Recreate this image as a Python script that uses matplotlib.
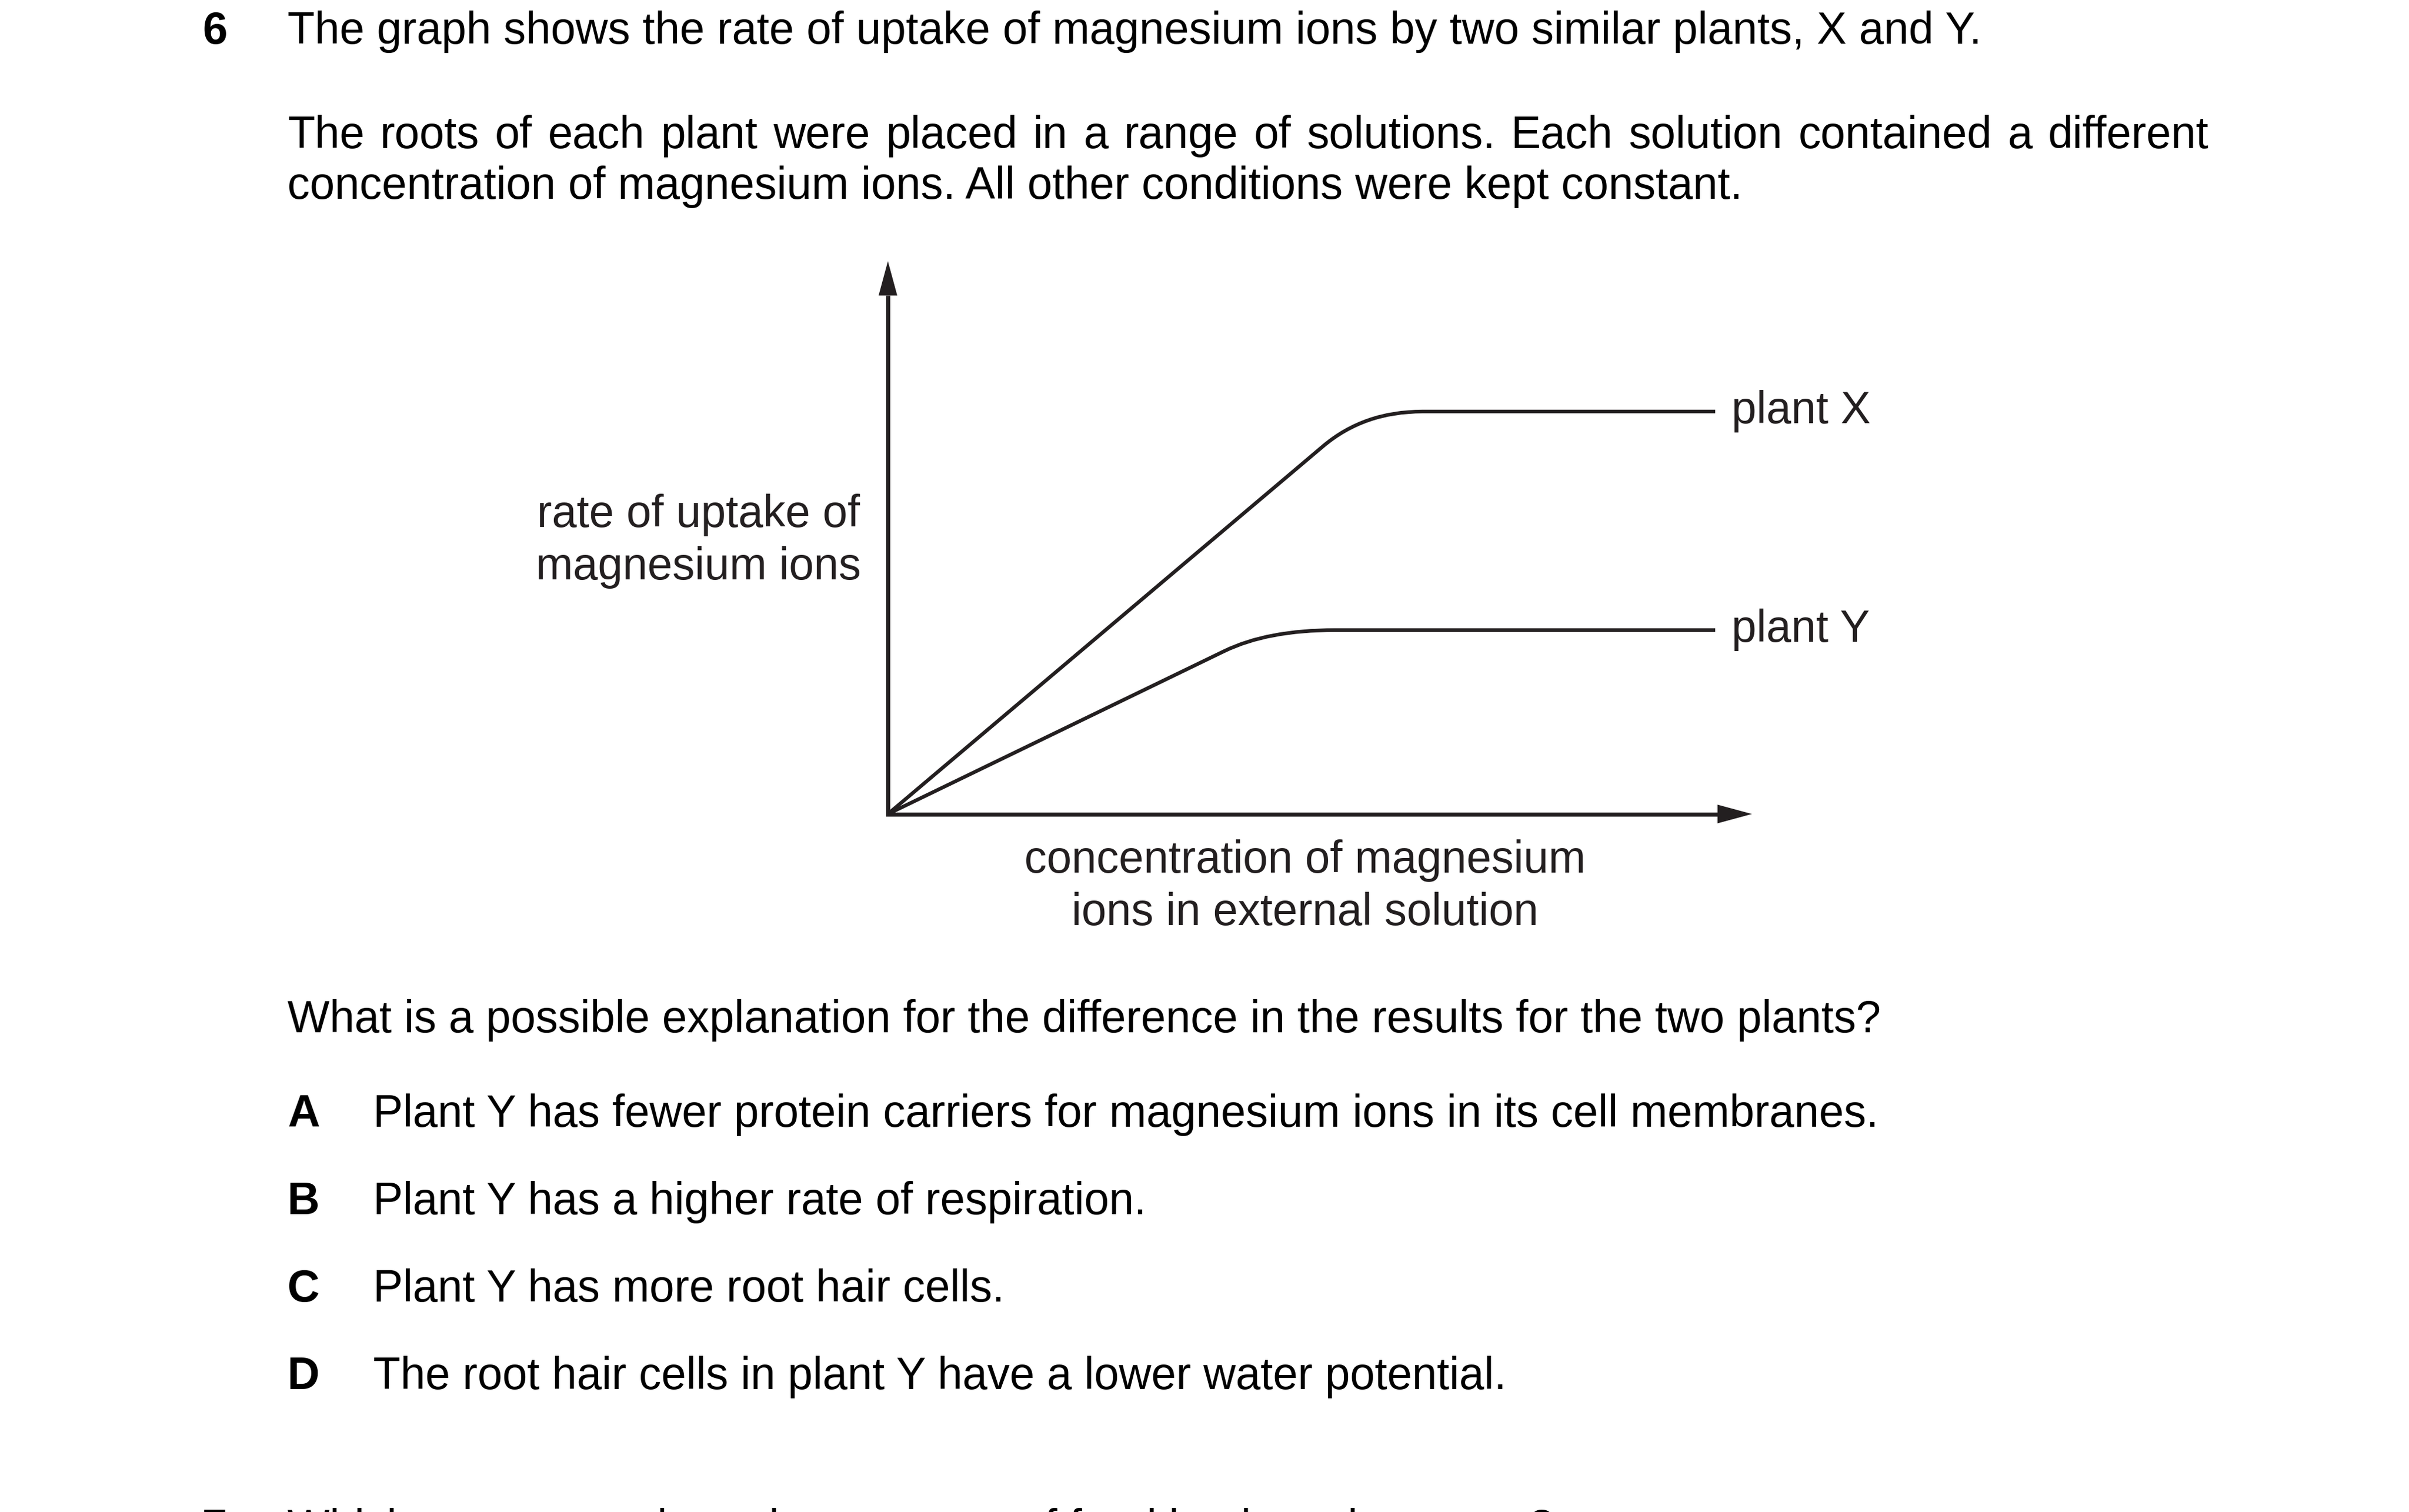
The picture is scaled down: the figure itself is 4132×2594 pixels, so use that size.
import matplotlib
matplotlib.use('Agg')
import matplotlib.pyplot as plt
from matplotlib.path import Path
from matplotlib.patches import PathPatch

W, H = 4132, 2594
DPI = 100
plt.rcParams['font.family'] = ['Liberation Sans', 'DejaVu Sans']

# ---- text of the question ----
q_number = '6'
title = 'The graph shows the rate of uptake of magnesium ions by two similar plants, X and Y.'
para_lines = ['The roots of each plant were placed in a range of solutions. Each solution contained a different',
              'concentration of magnesium ions. All other conditions were kept constant.']
y_label = 'rate of uptake of\nmagnesium ions'
x_label = 'concentration of magnesium\nions in external solution'
question = 'What is a possible explanation for the difference in the results for the two plants?'
option_letters = ['A', 'B', 'C', 'D']
option_texts = ['Plant Y has fewer protein carriers for magnesium ions in its cell membranes.',
                'Plant Y has a higher rate of respiration.',
                'Plant Y has more root hair cells.',
                'The root hair cells in plant Y have a lower water potential.']
next_number = '7'
next_question = 'Which statement about the transport of food in plants is correct?'

# ---- curve data (arbitrary units) ----
series_names = ['plant X', 'plant Y']
conc_x = [0, 7.47, 8.17, 9.17, 14.19]
rate_x = [0, 6.315, 6.905, 6.905, 6.905]
conc_y = [0, 5.77, 6.51, 7.67, 14.19]
rate_y = [0, 2.795, 3.155, 3.155, 3.155]
x_max, y_max = 14.82, 9.485

ink = '#231f20'
fig = plt.figure(figsize=(W / DPI, H / DPI), dpi=DPI)
renderer = fig.canvas.get_renderer()


def px(x, y):
    return x / W, 1 - y / H


# fit font size to the title line width
probe = fig.text(0, 0, title, fontsize=54)
tw = probe.get_window_extent(renderer).width
probe.remove()
fs = 54 * 2906 / tw

fig.text(*px(347, 75), q_number, fontsize=fs, fontweight='bold', va='baseline')
fig.text(*px(493, 75), title, fontsize=fs, va='baseline')


def justified(line, x0, x1, y):
    words = line.split()
    arts = [fig.text(0, 0, w, fontsize=fs, va='baseline') for w in words]
    widths = [a.get_window_extent(renderer).width for a in arts]
    gap = (x1 - x0 - sum(widths)) / (len(words) - 1)
    x = x0
    for a, w in zip(arts, widths):
        a.set_position(px(x, y))
        x += w + gap


justified(para_lines[0], 493, 3789, 254)
fig.text(*px(493, 341), para_lines[1], fontsize=fs, va='baseline')

fig.text(*px(493, 1771), question, fontsize=fs, va='baseline')
for i, (let, txt) in enumerate(zip(option_letters, option_texts)):
    yb = 1933 + 150 * i
    fig.text(*px(493, yb), let, fontsize=fs, fontweight='bold', va='baseline')
    fig.text(*px(640, yb), txt, fontsize=fs, va='baseline')

fig.text(*px(347, 2644), next_number, fontsize=fs, fontweight='bold', va='baseline')
fig.text(*px(493, 2644), next_question, fontsize=fs, va='baseline')

# ---- graph ----
ax = fig.add_axes([1523 / W, 1 - 1396.5 / H, 1482 / W, 948.5 / H])
ax.set_xlim(0, x_max)
ax.set_ylim(0, y_max)
ax.axis('off')

head_len, head_half = 0.59, 0.16
ax.plot([0, 0, x_max - head_len], [y_max - head_len, 0, 0], color=ink, lw=5,
        solid_joinstyle='miter', solid_capstyle='butt', clip_on=False)
ax.fill([-head_half, head_half, 0], [y_max - head_len] * 2 + [y_max], color=ink, lw=0, clip_on=False)
ax.fill([x_max - head_len] * 2 + [x_max], [-head_half, head_half, 0], color=ink, lw=0, clip_on=False)

codes = [Path.MOVETO, Path.LINETO, Path.CURVE3, Path.CURVE3, Path.LINETO]
for cx, ry in [(conc_x, rate_x), (conc_y, rate_y)]:
    path = Path(list(zip(cx, ry)), codes)
    ax.add_patch(PathPatch(path, facecolor='none', edgecolor=ink, lw=4.5,
                           capstyle='butt', clip_on=False))

for name, cx, ry in [(series_names[0], conc_x, rate_x), (series_names[1], conc_y, rate_y)]:
    ax.annotate(name, xy=(cx[-1], ry[-1]), xytext=(28, -20), textcoords='offset pixels',
                fontsize=fs, color=ink, va='baseline', ha='left', annotation_clip=False)

# multi-line labels: y is the baseline of the last line
fig.text(*px(1198, 994), y_label, fontsize=fs, color=ink, ha='center', va='baseline',
         multialignment='center', linespacing=1.29)
fig.text(*px(2238, 1587), x_label, fontsize=fs, color=ink, ha='center', va='baseline',
         multialignment='center', linespacing=1.29)

fig.savefig('out.png', dpi=DPI, facecolor='white')
